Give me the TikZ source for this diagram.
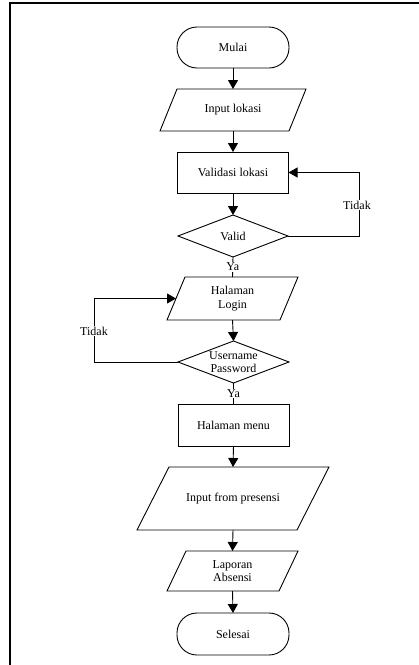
\documentclass[tikz,border=0pt]{standalone}
\usepackage{fontspec}
\setmainfont{Liberation Serif}
\usetikzlibrary{shapes.geometric,arrows.meta}
\begin{document}
\begin{tikzpicture}[x=1pt,y=-1pt,
  every node/.style={font=\fontsize{12}{13.5}\selectfont, align=center},
  base/.style={draw, line width=0.9pt, inner sep=0pt, outer sep=0pt},
  term/.style={base, rectangle, rounded corners=20pt, minimum width=112pt, minimum height=41pt},
  proc/.style={base, rectangle, minimum width=111pt, minimum height=41pt},
  parabox/.style={rectangle, inner sep=0pt, outer sep=0pt},
  dec/.style={base, diamond, minimum width=110pt, minimum height=42pt},
  lbl/.style={fill=white, inner sep=1pt},
  arr/.style={line width=0.9pt, -{Triangle[length=9pt,width=10pt]}},
  ln/.style={line width=0.9pt, line join=miter}]
\useasboundingbox (0,0) rectangle (419,665);
\draw[line width=1.1pt] (10,665) -- (10,3) -- (419,3);

\node[term] (start) at (233,47.5) {Mulai};
\node[parabox, minimum width=146pt, minimum height=42pt] (in1) at (233,110) {Input lokasi};
\draw[ln] ([xshift=17pt]in1.north west) -- (in1.north east) -- ([xshift=-17pt]in1.south east) -- (in1.south west) -- cycle;
\node[proc] (val) at (233,172.5) {Validasi lokasi};
\node[dec] (d1) at (233,236) {};
\node (d1t) at (d1.center) {Valid};
\node[parabox, minimum width=131pt, minimum height=43pt] (login) at (232.5,298.5) {Halaman\\Login};
\draw[ln] ([xshift=18pt]login.north west) -- (login.north east) -- ([xshift=-18pt]login.south east) -- (login.south west) -- cycle;
\coordinate (loginL) at ([xshift=9pt]login.west);
\node[dec, minimum width=111pt] (d2) at (233.5,362) {};
\node (d2t) at (d2.center) {Username\\Password};
\node[proc, minimum height=42pt] (menu) at (233.5,425) {Halaman menu};
\node[parabox, minimum width=192pt, minimum height=63pt] (in2) at (233,498.5) {Input from presensi};
\draw[ln] ([xshift=32pt]in2.north west) -- (in2.north east) -- ([xshift=-32pt]in2.south east) -- (in2.south west) -- cycle;
\node[parabox, minimum width=131pt, minimum height=40pt] (lap) at (232.5,571) {Laporan\\Absensi};
\draw[ln] ([xshift=19pt]lap.north west) -- (lap.north east) -- ([xshift=-19pt]lap.south east) -- (lap.south west) -- cycle;
\node[term, minimum height=42pt] (end) at (233,634) {Selesai};

\draw[arr] (start.south) -- (in1.north);
\draw[arr] (in1.south) -- (val.north);
\draw[arr] (val.south) -- (d1.north);
\draw[ln] (d1.south) -- node[lbl] (ya1) {Ya} (login.north);
\coordinate (r1) at (359,236);
\draw[arr] (d1.east) -- (r1) |- (val.east);
\node[lbl] (t1) at (357,205) {Tidak};
\draw[arr] (login.south) -- (d2.north);
\coordinate (l1) at (94,362);
\draw[arr] (d2.west) -- (l1) |- (loginL);
\node[lbl] (t2) at (94,331) {Tidak};
\draw[ln] (d2.south) -- node[lbl] (ya2) {Ya} (menu.north);
\draw[arr] (menu.south) -- (in2.north);
\draw[arr] (in2.south) -- (lap.north);
\draw[arr] (lap.south) -- (end.north);
\end{tikzpicture}
\end{document}
